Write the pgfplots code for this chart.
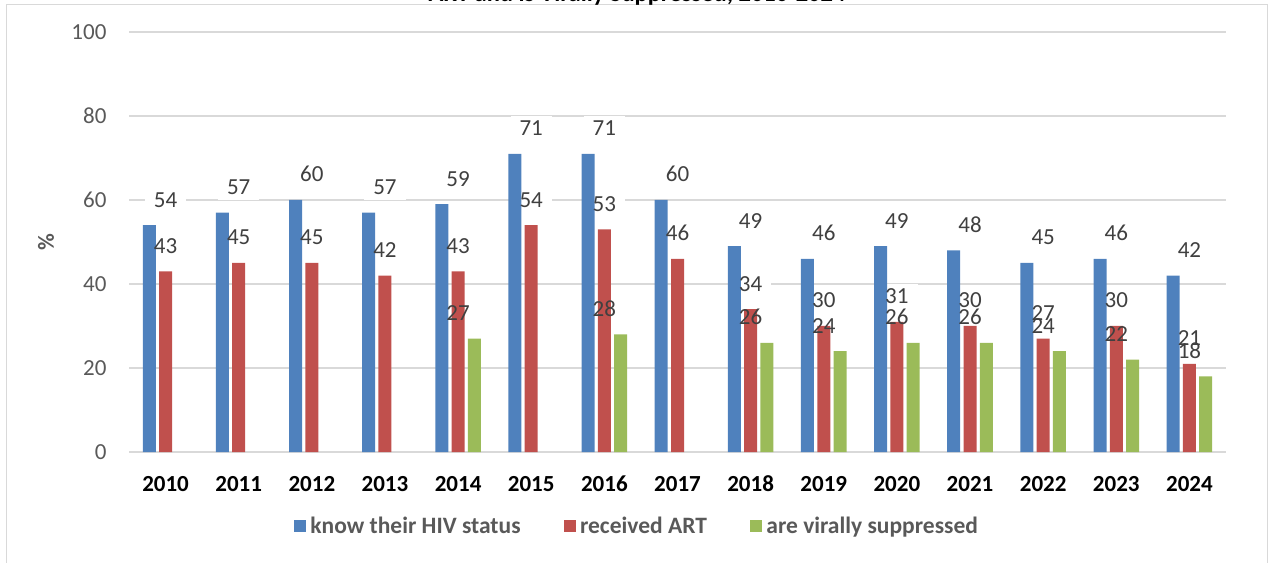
\documentclass[border=0pt]{standalone}
\usepackage{pgfplots}
\pgfplotsset{compat=1.18}
\usepackage{pgfplotstable}
\usepackage{fontspec}
\setmainfont{Carlito}
\definecolor{cblue}{HTML}{4F81BD}
\definecolor{cred}{HTML}{C0504D}
\definecolor{cgreen}{HTML}{9BBB59}
\definecolor{cgrid}{HTML}{D9D9D9}
\definecolor{ctick}{HTML}{595959}
\definecolor{clab}{HTML}{404040}

\pgfplotstableread{
x y
0 54
1 57
2 60
3 57
4 59
5 71
6 71
7 60
8 49
9 46
10 49
11 48
12 45
13 46
14 42
}\knowtab
\pgfplotstableread{
x y
0 43
1 45
2 45
3 42
4 43
5 54
6 53
7 46
8 34
9 30
10 31
11 30
12 27
13 30
14 21
}\arttab
\pgfplotstableread{
x y
4 27
6 28
8 26
9 24
10 26
11 26
12 24
13 22
14 18
}\suptab

\pgfplotsset{
  /pgf/number format/assume math mode=true,
  common/.style={
    at={(129pt,110pt)}, anchor=south west,
    scale only axis, width=1097pt, height=420pt,
    xmin=-0.5, xmax=14.5, ymin=0, ymax=100,
    axis line style={draw=none},
    major tick length=0pt,
  },
  lbase/.style={nodes near coords, every node near coord/.style={anchor=base, yshift=18pt, inner xsep=9pt, inner ysep=5pt, font=\fontsize{23}{27}\selectfont, #1}},
}

\begin{document}
\begin{tikzpicture}
\useasboundingbox (0,0) rectangle (1268pt,562pt);
\draw[cgrid, line width=1pt] (6pt,-5pt) rectangle (1267pt,557pt);
\node[anchor=base, font=\fontsize{24.5}{28}\selectfont\bfseries, inner sep=0pt] at (637pt,560.5pt) {ART and is Virally Suppressed, 2010-2024};
\node[rotate=90, text=ctick, font=\fontsize{23}{27}\selectfont\bfseries] at (46pt,320pt) {\%};
% background axis: grid, tick labels, white label boxes
\begin{axis}[common,
  ytick={0,20,40,60,80,100},
  xtick={0,...,14},
  xticklabels={2010,2011,2012,2013,2014,2015,2016,2017,2018,2019,2020,2021,2022,2023,2024},
  ymajorgrids, grid style={cgrid, line width=1.3pt},
  yticklabel style={anchor=east, xshift=-19pt, text=ctick, font=\fontsize{23}{27}\selectfont},
  xticklabel style={anchor=base, yshift=-39.5pt, text=black, font=\fontsize{23}{27}\selectfont\bfseries},
]
\addplot[ybar, bar width=13pt, bar shift=-16.3pt, draw=none, fill=none, lbase={fill=white, text opacity=0}] table[x=x,y=y] {\knowtab};
\addplot[ybar, bar width=13pt, bar shift=0pt, draw=none, fill=none, lbase={fill=white, text opacity=0}] table[x=x,y=y] {\arttab};
\addplot[ybar, bar width=13pt, bar shift=16.3pt, draw=none, fill=none, lbase={fill=white, text opacity=0}] table[x=x,y=y] {\suptab};
\end{axis}
% foreground axis: bars, label texts, legend
\begin{axis}[common,
  xtick=\empty, ytick=\empty,
  legend columns=3,
  legend style={draw=none, fill=none, at={(rel axis cs:0.4630,-0.176)}, anchor=center,
    font=\fontsize{23.5}{27}\selectfont\bfseries, text=ctick,
    /tikz/every even column/.append style={column sep=41pt}},
]
\addplot[ybar, bar width=13pt, bar shift=-16.3pt, draw=none, fill=cblue,
  legend image code/.code={\fill[cblue] (0pt,-6pt) rectangle (12pt,6pt); \path (14.5pt,0pt);}] table[x=x,y=y] {\knowtab};
\addlegendentry{know their HIV status}
\addplot[ybar, bar width=13pt, bar shift=0pt, draw=none, fill=cred,
  legend image code/.code={\fill[cred] (0pt,-6pt) rectangle (12pt,6pt); \path (14.5pt,0pt);}] table[x=x,y=y] {\arttab};
\addlegendentry{received ART}
\addplot[ybar, bar width=13pt, bar shift=16.3pt, draw=none, fill=cgreen,
  legend image code/.code={\fill[cgreen] (0pt,-6pt) rectangle (12pt,6pt); \path (14.5pt,0pt);}] table[x=x,y=y] {\suptab};
\addlegendentry{are virally suppressed}
\addplot[ybar, bar width=13pt, bar shift=-16.3pt, draw=none, fill=none, forget plot, lbase={text=clab}] table[x=x,y=y] {\knowtab};
\addplot[ybar, bar width=13pt, bar shift=0pt, draw=none, fill=none, forget plot, lbase={text=clab}] table[x=x,y=y] {\arttab};
\addplot[ybar, bar width=13pt, bar shift=16.3pt, draw=none, fill=none, forget plot, lbase={text=clab}] table[x=x,y=y] {\suptab};
\end{axis}
\end{tikzpicture}
\end{document}
